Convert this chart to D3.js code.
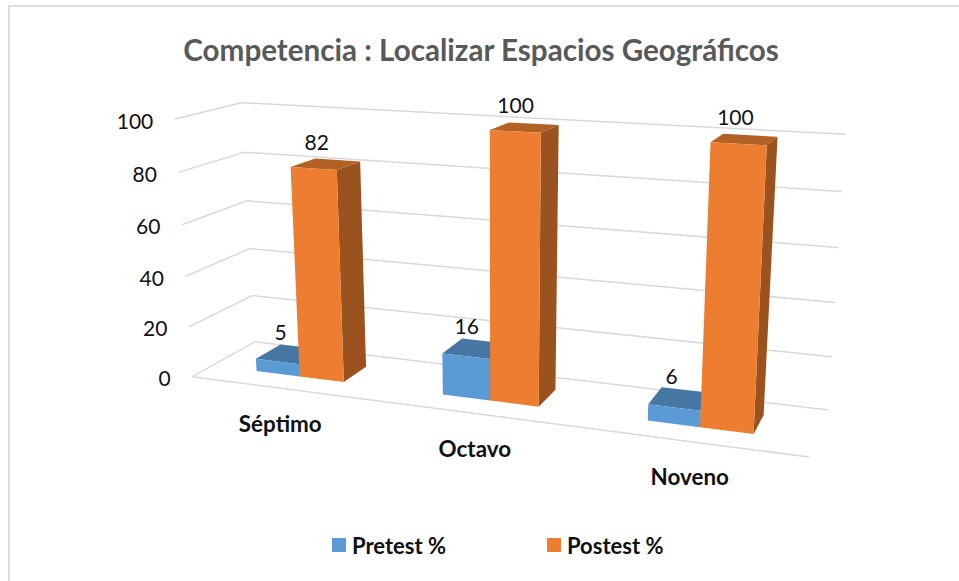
<!DOCTYPE html>
<html><head><meta charset="utf-8">
<style>html,body{margin:0;padding:0;background:#fff}svg{display:block}text{font-family:Lato,"Open Sans",sans-serif}</style>
<script src="https://cdn.jsdelivr.net/npm/d3@7"></script>
</head><body><svg id="c" width="959" height="581"></svg>
<script>
const titleText = "Competencia : Localizar Espacios Geográficos";
const categories = ["Séptimo", "Octavo", "Noveno"];
const seriesNames = ["Pretest %", "Postest %"];
const pretest = [5, 16, 6];
const postest = [82, 100, 100];
const valueTicks = [0, 20, 40, 60, 80, 100];

const frontColors = ["#5B9BD5", "#ED7D31"];
const topColors = ["#4676A3", "#B26023"];
const sideColors = ["#3F6A92", "#9A521E"];

const svg = d3.select("#c");
svg.append("rect").attr("width", 959).attr("height", 581).attr("fill", "#fff");
svg.append("path").attr("d", "M9,581V6H959").attr("fill", "none").attr("stroke", "#DDDDDD").attr("stroke-width", 2);

// Perspective box: [front-left, front-right, back-right, back-left]
const floorQuad = [[192.3,376.7],[809,457],[828.3,410],[255,341.7]];
const ceilQuad  = [[174.8,119],[824.5,156],[845.7,134.3],[241.2,102.7]];

function homography(q){
  const [[x0,y0],[x1,y1],[x2,y2],[x3,y3]] = q;
  const dx1=x1-x2, dx2=x3-x2, sx=x0-x1+x2-x3;
  const dy1=y1-y2, dy2=y3-y2, sy=y0-y1+y2-y3;
  const den=dx1*dy2-dx2*dy1;
  const g=(sx*dy2-dx2*sy)/den, h=(dx1*sy-sx*dy1)/den;
  const a=x1-x0+g*x1, b=x3-x0+h*x3, d=y1-y0+g*y1, e=y3-y0+h*y3;
  return (u,v)=>{const w=g*u+h*v+1;return [(a*u+b*v+x0)/w,(d*u+e*v+y0)/w];};
}
const floorH = homography(floorQuad), ceilH = homography(ceilQuad);

const yScale = d3.scaleLinear().domain([0,100]).range([0,1]);
const x0 = d3.scaleBand().domain(categories).range([-0.003,0.997]).paddingInner(0.52).paddingOuter(0.26);
const x1 = d3.scaleBand().domain(seriesNames).range([0,x0.bandwidth()]);
const depth = d3.scaleLinear().domain([0,1]).range([0.305,0.715]);

function P(u,v,val){
  const w=yScale(val), t=w/(1+0.045*(1-w));
  const b=floorH(u,v), c=ceilH(u,v);
  return [b[0]+(c[0]-b[0])*t, b[1]+(c[1]-b[1])*t];
}
const line = d3.line();

// Grid
const grid = svg.append("g").attr("fill","none").attr("stroke","#D9D9D9").attr("stroke-width",1.5);
valueTicks.forEach(t=>{
  grid.append("path").attr("d",line([P(0,0,t),P(0,1,t),P(1,1,t)]));
});
grid.append("path").attr("d",line([P(0,0,0),P(1,0,0)]));

// Tick labels
svg.append("g").selectAll("text").data(valueTicks).join("text")
  .attr("x",d=>P(0,0,d)[0]-21.5).attr("y",d=>P(0,0,d)[1]+1)
  .attr("text-anchor","end").attr("dominant-baseline","central")
  .attr("font-size",21).attr("fill","#111").text(d=>d);

// Bars
const series = [pretest, postest];
categories.forEach((cat,i)=>{
  series.forEach((vals,s)=>{
    const name=seriesNames[s], val=vals[i];
    const u0=x0(cat)+x1(name), u1=u0+x1.bandwidth();
    const v0=depth(0), v1=depth(1);
    const g=svg.append("g");
    g.append("path").attr("fill",sideColors[s]).attr("d",line([P(u1,v0,0),P(u1,v1,0),P(u1,v1,val),P(u1,v0,val)])+"Z");
    g.append("path").attr("fill",topColors[s]).attr("d",line([P(u0,v0,val),P(u1,v0,val),P(u1,v1,val),P(u0,v1,val)])+"Z");
    g.append("path").attr("fill",frontColors[s]).attr("d",line([P(u0,v0,0),P(u1,v0,0),P(u1,v0,val),P(u0,v0,val)])+"Z");
  });
});
// Value labels
categories.forEach((cat,i)=>{
  series.forEach((vals,s)=>{
    const name=seriesNames[s], val=vals[i];
    const uc=x0(cat)+x1(name)+x1.bandwidth()/2;
    const p=P(uc,0.51,val);
    svg.append("text").attr("x",p[0]-9).attr("y",p[1]-23)
      .attr("text-anchor","middle").attr("dominant-baseline","central")
      .attr("font-size",21).attr("fill","#111").text(val);
  });
});
// Category labels
svg.append("g").selectAll("text").data(categories).join("text")
  .attr("x",d=>P(x0(d)+x0.bandwidth()/2,0,0)[0]-1).attr("y",d=>P(x0(d)+x0.bandwidth()/2,0,0)[1]+35)
  .attr("text-anchor","middle").attr("dominant-baseline","central")
  .attr("font-size",22.4).attr("font-weight",700).attr("fill","#111").text(d=>d);

// Title
svg.append("text").attr("x",481).attr("y",49).attr("text-anchor","middle").attr("dominant-baseline","central")
  .attr("font-size",29.6).attr("font-weight",700).attr("fill","#595959").text(titleText);

// Legend
const legendX = d3.scaleOrdinal().domain(seriesNames).range([332,547]);
const lg = svg.append("g").selectAll("g").data(seriesNames).join("g").attr("transform",d=>`translate(${legendX(d)},538)`);
lg.append("rect").attr("width",14).attr("height",14).attr("fill",(d,i)=>frontColors[i]);
lg.append("text").attr("x",20).attr("y",7).attr("dominant-baseline","central")
  .attr("font-size",22).attr("font-weight",700).attr("fill","#111").text(d=>d);
</script></body></html>
